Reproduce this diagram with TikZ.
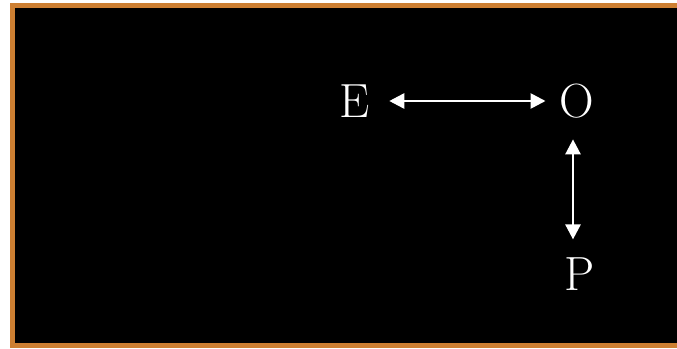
\documentclass[tikz,border=0pt]{standalone}
\usetikzlibrary{arrows.meta}
\definecolor{bronze}{RGB}{205,127,50}
\tikzset{
  letter/.style={text=white, inner sep=0pt, font=\fontsize{48}{56}\selectfont},
  link/.style={white, line width=2.6pt, {Triangle[length=15pt,width=15pt]}-{Triangle[length=15pt,width=15pt]}}
}
\begin{document}
\begin{tikzpicture}[x=1pt,y=-1pt]
   \useasboundingbox (0,0) rectangle (677,348);
   \fill[white] (0,0) rectangle (677,348);
   \draw[fill=black, draw=bronze, line width=5pt] (12.5,5.5) rectangle (690,345.5);

   \node[letter] (E) at (355,101) {E};
   \node[letter] (O) at (577,101) {O};
   \node[letter] (P) at (580,274) {P};

   \coordinate (Otop) at ([xshift=-4pt,yshift=-21pt]O.south);
   \coordinate (Pend) at ([yshift=18pt]Otop |- P.north);

   \draw[link] ([xshift=19pt]E.east) -- ([xshift=-14pt]O.west);
   \draw[link] (Otop) -- (Pend);
\end{tikzpicture}
\end{document}
